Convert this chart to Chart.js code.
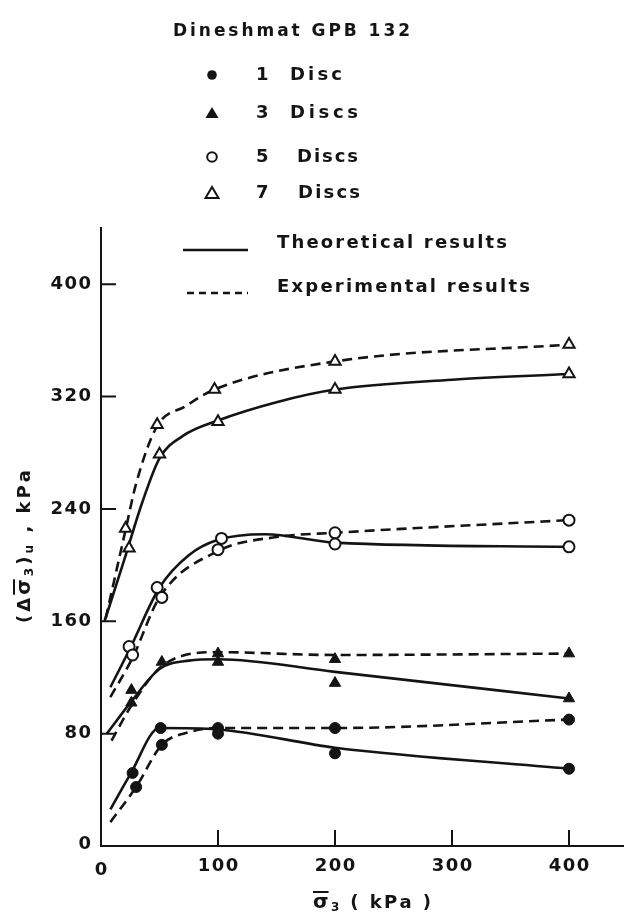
<!DOCTYPE html>
<html>
<head>
<meta charset="utf-8">
<script src="https://cdn.jsdelivr.net/npm/chart.js@4.4.1/dist/chart.umd.min.js"></script>
<style>
  html, body { margin: 0; padding: 0; background: #fff; overflow: hidden; }
  #wrap { width: 624px; height: 919px; }
  canvas { display: block; }
</style>
</head>
<body>
<div id="wrap"><canvas id="chart" width="624" height="919"></canvas></div>
<script>
// Axis ticks
const xTicks = [0, 100, 200, 300, 400];
const yTicks = [0, 80, 160, 240, 320, 400];

// 1 disc
const disc1Theo = [[8, 26], [25, 51], [50, 84], [100, 83], [200, 70], [400, 55]];
const disc1Exp = [[8, 17], [30, 42], [52, 72], [75, 81], [100, 84], [200, 84], [400, 90]];
const disc1Pts = [[27, 52], [30, 42], [51, 84], [52, 72], [100, 84], [100, 80], [200, 84], [200, 66], [400, 90], [400, 55]];

// 3 discs
const disc3Theo = [[5, 80], [26, 103], [50, 126], [75, 132], [100, 133], [200, 124], [400, 105]];
const disc3Exp = [[9, 75], [26, 100], [52, 128], [100, 138], [200, 136], [400, 137]];
const disc3Pts = [[26, 111], [26, 102], [52, 131], [100, 137], [100, 131], [200, 133], [200, 116], [400, 137], [400, 105]];

// 5 discs
const disc5Theo = [[8, 113], [25, 141], [50, 184], [75, 207], [100, 218], [140, 222], [200, 216], [400, 213]];
const disc5Exp = [[8, 106], [27, 134], [50, 177], [100, 210], [150, 220], [200, 223], [400, 232]];
const disc5Pts = [[24, 142], [27, 136], [48, 184], [52, 177], [103, 219], [100, 211], [200, 223], [200, 215], [400, 232], [400, 213]];

// 7 discs
const disc7Theo = [[3, 160], [20, 204], [35, 244], [50, 276], [70, 292], [100, 303], [150, 316], [200, 325], [300, 332], [400, 336]];
const disc7Exp = [[4, 162], [21, 225], [30, 258], [48, 299], [72, 313], [97, 325], [200, 345], [400, 357]];
const disc7Pts = [[21, 226], [24, 212], [48, 300], [50, 279], [97, 325], [100, 302], [200, 345], [200, 325], [400, 357], [400, 336]];

const INK = '#141414';
const FONT = '"DejaVu Sans", sans-serif';

const toXY = arr => arr.map(p => ({x: p[0], y: p[1]}));

function curve(pts, dashed){
  return {
    data: toXY(pts),
    showLine: true,
    borderColor: INK,
    borderWidth: 2.6,
    borderDash: dashed ? [10, 6] : [],
    pointRadius: 0,
    cubicInterpolationMode: 'monotone',
    order: 2
  };
}

function marks(pts, style, filled, r){
  return {
    data: toXY(pts),
    showLine: false,
    pointStyle: style,
    pointRadius: r,
    pointBackgroundColor: filled ? INK : '#fff',
    pointBorderColor: INK,
    pointBorderWidth: filled ? 1 : 2,
    order: 1,
    clip: false
  };
}

// text helpers: letter spaced runs, optional overbar, subscript offsets
function runsWidth(ctx, runs, sp){
  let w = 0, n = 0;
  runs.forEach(r => {
    ctx.font = 'bold ' + r.s + 'px ' + FONT;
    for (const ch of r.t) { w += ctx.measureText(ch).width; n++; }
  });
  return {w: w, n: n, total: w + sp * (n - 1)};
}

function drawRuns(ctx, runs, x, y, sp){
  ctx.textBaseline = 'middle';
  ctx.textAlign = 'left';
  runs.forEach(r => {
    ctx.font = 'bold ' + r.s + 'px ' + FONT;
    const x0 = x;
    for (const ch of r.t) {
      ctx.fillText(ch, x, y + (r.dy || 0));
      x += ctx.measureText(ch).width + sp;
    }
    if (r.bar) {
      ctx.beginPath();
      ctx.lineWidth = 2;
      ctx.moveTo(x0, y + (r.dy || 0) - r.s * 0.55);
      ctx.lineTo(x - sp, y + (r.dy || 0) - r.s * 0.55);
      ctx.stroke();
    }
  });
  return x;
}

// draw text stretched across a given width
function fitText(ctx, runs, x, y, width){
  const m = runsWidth(ctx, runs, 0);
  const sp = m.n > 1 ? (width - m.w) / (m.n - 1) : 0;
  drawRuns(ctx, runs, x, y, sp);
}

const T = (t, s) => [{t: t, s: s || 18}];

const paperPlugin = {
  id: 'paper',
  beforeDraw(chart){
    const ctx = chart.ctx;
    ctx.save();
    ctx.fillStyle = '#fff';
    ctx.fillRect(0, 0, chart.width, chart.height);
    ctx.restore();
  },
  afterDraw(chart){
    const ctx = chart.ctx;
    const xs = chart.scales.x, ys = chart.scales.y;
    const area = chart.chartArea;
    ctx.save();
    ctx.fillStyle = INK;
    ctx.strokeStyle = INK;

    // inward tick marks
    ctx.lineWidth = 2;
    ctx.beginPath();
    yTicks.slice(1).forEach(v => {
      const py = ys.getPixelForValue(v);
      ctx.moveTo(area.left, py);
      ctx.lineTo(area.left + 15, py);
    });
    xTicks.slice(1).forEach(v => {
      const px = xs.getPixelForValue(v);
      ctx.moveTo(px, area.bottom);
      ctx.lineTo(px, area.bottom - 16);
    });
    ctx.stroke();

    // tick labels
    yTicks.forEach(v => {
      const lbl = T(String(v));
      const w = runsWidth(ctx, lbl, 1.5).total;
      const py = v === 0 ? ys.getPixelForValue(v) - 2 : ys.getPixelForValue(v);
      drawRuns(ctx, lbl, 91 - w, py, 1.5);
    });
    xTicks.forEach(v => {
      const lbl = T(String(v));
      const w = runsWidth(ctx, lbl, 1.5).total;
      const px = xs.getPixelForValue(v);
      drawRuns(ctx, lbl, px - w / 2, area.bottom + (v === 0 ? 24 : 20), 1.5);
    });

    // x axis title
    fitText(ctx, [
      {t: 'σ', s: 20, bar: true},
      {t: '3', s: 12, dy: 5},
      {t: ' ( kPa )', s: 18}
    ], 313, 903, 118);

    // y axis title (rotated)
    ctx.save();
    ctx.translate(25, 546);
    ctx.rotate(-Math.PI / 2);
    fitText(ctx, [
      {t: '(Δ', s: 18},
      {t: 'σ', s: 20, bar: true},
      {t: '3', s: 12, dy: 5},
      {t: ')', s: 18},
      {t: 'u', s: 12, dy: 5},
      {t: ' , kPa', s: 18}
    ], -77, 0, 153);
    ctx.restore();

    // key block
    fitText(ctx, T('Dineshmat GPB 132', 17), 173, 32, 237);

    const keyRows = [
      {y: 75, style: 'circle', filled: true, num: '1', word: 'Disc', wx: 290, ww: 52},
      {y: 113, style: 'triangle', filled: true, num: '3', word: 'Discs', wx: 290, ww: 68},
      {y: 157, style: 'circle', filled: false, num: '5', word: 'Discs', wx: 297, ww: 61},
      {y: 193, style: 'triangle', filled: false, num: '7', word: 'Discs', wx: 298, ww: 62}
    ];
    keyRows.forEach(k => {
      ctx.beginPath();
      if (k.style === 'circle') {
        ctx.arc(212, k.y, 4.8, 0, Math.PI * 2);
      } else {
        ctx.moveTo(212, k.y - 6);
        ctx.lineTo(218.5, k.y + 5);
        ctx.lineTo(205.5, k.y + 5);
        ctx.closePath();
      }
      if (k.filled) { ctx.fill(); } else { ctx.lineWidth = 2; ctx.stroke(); }
      drawRuns(ctx, T(k.num), 256, k.y, 0);
      fitText(ctx, T(k.word), k.wx, k.y, k.ww);
    });

    ctx.lineWidth = 2.6;
    ctx.beginPath();
    ctx.moveTo(183, 250);
    ctx.lineTo(248, 250);
    ctx.stroke();
    fitText(ctx, T('Theoretical results'), 277, 243, 230);

    ctx.setLineDash([7, 5]);
    ctx.beginPath();
    ctx.moveTo(187, 293);
    ctx.lineTo(248, 293);
    ctx.stroke();
    ctx.setLineDash([]);
    fitText(ctx, T('Experimental results'), 277, 287, 253);

    ctx.restore();
  }
};

new Chart(document.getElementById('chart'), {
  type: 'scatter',
  data: {
    datasets: [
      curve(disc1Theo, false), curve(disc1Exp, true),
      curve(disc3Theo, false), curve(disc3Exp, true),
      curve(disc5Theo, false), curve(disc5Exp, true),
      curve(disc7Theo, false), curve(disc7Exp, true),
      marks(disc1Pts, 'circle', true, 5.5),
      marks(disc3Pts, 'triangle', true, 6.5),
      marks(disc5Pts, 'circle', false, 5.5),
      marks(disc7Pts, 'triangle', false, 6.5)
    ]
  },
  options: {
    responsive: false,
    animation: false,
    layout: {autoPadding: false, padding: {left: 101, right: 0, top: 228, bottom: 73}},
    plugins: {legend: {display: false}, tooltip: {enabled: false}},
    scales: {
      x: {
        type: 'linear', min: 0, max: 447,
        grid: {display: false, drawTicks: false},
        border: {display: true, color: INK, width: 2},
        ticks: {display: false}
      },
      y: {
        type: 'linear', min: 0, max: 440,
        grid: {display: false, drawTicks: false},
        border: {display: true, color: INK, width: 2},
        ticks: {display: false}
      }
    }
  },
  plugins: [paperPlugin]
});
</script>
</body>
</html>
